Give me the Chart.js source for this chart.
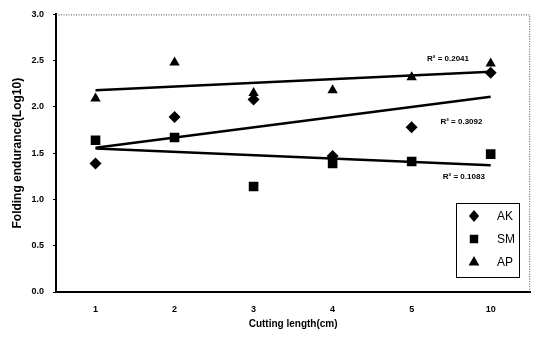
<!DOCTYPE html>
<html>
<head>
<meta charset="utf-8">
<script src="https://cdn.jsdelivr.net/npm/chart.js@4/dist/chart.umd.min.js"></script>
<style>
    html, body { margin: 0; padding: 0; background: #fff; }
    #chart { display: block; }
</style>
</head>
<body>
<canvas id="chart" width="537" height="339"></canvas>
<script>
const categories = ['1', '2', '3', '4', '5', '10'];
const yTickLabels = ['0.0', '0.5', '1.0', '1.5', '2.0', '2.5', '3.0'];

const akValues = [1.39, 1.89, 2.08, 1.47, 1.78, 2.37];
const smValues = [1.64, 1.67, 1.14, 1.39, 1.41, 1.49];
const apValues = [2.09, 2.48, 2.15, 2.18, 2.32, 2.47];

// linear trend lines, read at the first and last category
const akTrend = [1.56, null, null, null, null, 2.11];
const smTrend = [1.55, null, null, null, null, 1.37];
const apTrend = [2.18, null, null, null, null, 2.38];

const rSquaredLabels = ['R² = 0.3092', 'R² = 0.1083', 'R² = 0.2041'];

const NARROW = '"Liberation Sans Narrow", "Liberation Sans", Arial, sans-serif';
const SANS = '"Liberation Sans", Arial, sans-serif';

function scatterSet(label, data, pointStyle, radius) {
    return {
        label,
        data,
        showLine: false,
        pointStyle,
        pointRadius: radius,
        pointBackgroundColor: '#000',
        pointBorderColor: '#000',
        pointBorderWidth: 0,
        borderColor: '#000',
        backgroundColor: '#000',
    };
}

function trendSet(label, data) {
    return {
        label,
        data,
        spanGaps: true,
        borderColor: '#000',
        borderWidth: 2.5,
        pointRadius: 0,
        fill: false,
        inLegend: false,
    };
}

function drawMarker(ctx, style, x, y, r) {
    ctx.beginPath();
    if (style === 'rectRot') {
        ctx.moveTo(x, y - r);
        ctx.lineTo(x + r * 0.85, y);
        ctx.lineTo(x, y + r);
        ctx.lineTo(x - r * 0.85, y);
    } else if (style === 'rect') {
        const s = r * Math.SQRT1_2;
        ctx.rect(x - s, y - s, 2 * s, 2 * s);
    } else {
        ctx.moveTo(x, y - r);
        ctx.lineTo(x + r * 0.9, y + r * 0.6);
        ctx.lineTo(x - r * 0.9, y + r * 0.6);
    }
    ctx.closePath();
    ctx.fill();
}

const frameAndLegend = {
    id: 'frameAndLegend',
    afterDraw(chart) {
        const { ctx, chartArea } = chart;
        const xs = chart.scales.x;
        const ys = chart.scales.y;

        ctx.save();
        // dotted top and right border
        ctx.strokeStyle = '#444';
        ctx.lineWidth = 1;
        ctx.setLineDash([1, 1.5]);
        ctx.beginPath();
        ctx.moveTo(chartArea.left, chartArea.top + 0.5);
        ctx.lineTo(chartArea.right - 0.5, chartArea.top + 0.5);
        ctx.lineTo(chartArea.right - 0.5, chartArea.bottom);
        ctx.stroke();
        ctx.setLineDash([]);

        // R² annotations next to the trend lines
        const labelSpots = [[4.63, 1.84], [4.66, 1.24], [4.46, 2.52]];
        ctx.fillStyle = '#000';
        ctx.font = 'bold 8px ' + NARROW;
        ctx.textAlign = 'center';
        ctx.textBaseline = 'middle';
        rSquaredLabels.forEach((text, i) => {
            const px = xs.getPixelForValue(labelSpots[i][0]);
            const py = ys.getPixelForValue(labelSpots[i][1]);
            ctx.fillText(text, px, py);
        });

        // legend box
        const boxX = 456, boxY = 203, boxW = 63, boxH = 74;
        ctx.fillStyle = '#fff';
        ctx.fillRect(boxX, boxY, boxW, boxH);
        ctx.strokeStyle = '#000';
        ctx.lineWidth = 1;
        ctx.strokeRect(boxX + 0.5, boxY + 0.5, boxW, boxH);

        const items = chart.data.datasets.filter((ds) => ds.inLegend !== false);
        ctx.font = '12px ' + SANS;
        ctx.textAlign = 'left';
        items.forEach((ds, i) => {
            const cy = boxY + 13 + i * 23;
            ctx.fillStyle = '#000';
            drawMarker(ctx, ds.pointStyle, boxX + 18, cy, 6);
            ctx.fillText(ds.label, boxX + 41, cy + 1);
        });
        ctx.restore();
    },
};

new Chart(document.getElementById('chart'), {
    type: 'line',
    data: {
        labels: categories,
        datasets: [
            trendSet('AK trend', akTrend),
            trendSet('SM trend', smTrend),
            trendSet('AP trend', apTrend),
            scatterSet('AK', akValues, 'rectRot', 6),
            scatterSet('SM', smValues, 'rect', 6.8),
            scatterSet('AP', apValues, 'triangle', 6),
        ],
    },
    options: {
        responsive: false,
        maintainAspectRatio: false,
        animation: false,
        devicePixelRatio: 1,
        layout: {
            padding: { left: 0, top: 8, right: 4, bottom: 0 },
        },
        plugins: {
            legend: { display: false },
            tooltip: { enabled: false },
        },
        scales: {
            x: {
                type: 'category',
                offset: true,
                afterFit(scale) {
                    scale.height = 47;
                },
                grid: { display: false },
                border: { display: true, color: '#000', width: 2 },
                ticks: {
                    color: '#000',
                    padding: 4,
                    font: { family: NARROW, size: 9, weight: 'bold' },
                },
                title: {
                    display: true,
                    text: 'Cutting length(cm)',
                    color: '#000',
                    padding: { top: 0, bottom: 9 },
                    font: { family: NARROW, size: 10, weight: 'bold' },
                },
            },
            y: {
                min: 0,
                max: 3,
                afterFit(scale) {
                    scale.width = 56;
                },
                grid: {
                    display: true,
                    drawOnChartArea: false,
                    drawTicks: true,
                    tickLength: 3,
                    color: '#000',
                },
                border: { display: true, color: '#000', width: 2 },
                ticks: {
                    stepSize: 0.5,
                    color: '#000',
                    padding: 9,
                    font: { family: NARROW, size: 9, weight: 'bold' },
                    callback: (value, index) => yTickLabels[index],
                },
                title: {
                    display: true,
                    text: 'Folding endurance(Log10)',
                    color: '#000',
                    padding: { top: 10, bottom: 0 },
                    font: { family: SANS, size: 12, weight: 'bold' },
                },
            },
        },
    },
    plugins: [frameAndLegend],
});
</script>
</body>
</html>
